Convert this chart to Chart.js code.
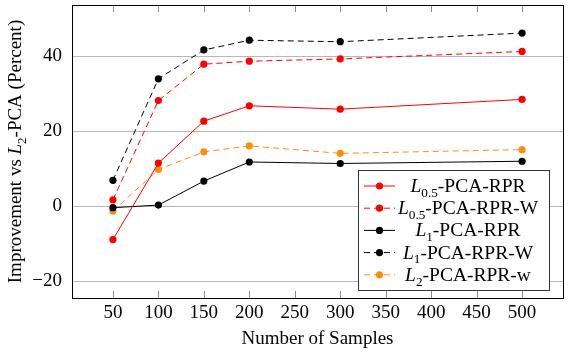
<!DOCTYPE html>
<html>
<head>
<meta charset="utf-8">
<script src="https://cdn.jsdelivr.net/npm/chart.js@4"></script>
<style>
html,body{margin:0;padding:0;background:#fff;}
canvas{display:block;}
</style>
</head>
<body>
<canvas id="c" width="574" height="356"></canvas>
<script>
// ---- data ----
const samples = [50, 100, 150, 200, 300, 500];
const l05 =   [-8.9, 11.5, 22.7, 26.8, 25.9, 28.5];
const l05W =  [1.7, 28.2, 37.9, 38.7, 39.3, 41.3];
const l1 =    [-0.4, 0.3, 6.7, 11.8, 11.4, 12.0];
const l1W =   [6.9, 34.0, 41.7, 44.3, 43.9, 46.2];
const l2w =   [-1.3, 9.8, 14.5, 16.1, 14.1, 15.1];
const xTicks = [50, 100, 150, 200, 250, 300, 350, 400, 450, 500];
const yTicks = [-20, 0, 20, 40];
const legendLabels = [
  [{t:'L',i:1},{t:'0.5',s:1},{t:'-PCA-RPR'}],
  [{t:'L',i:1},{t:'0.5',s:1},{t:'-PCA-RPR-W'}],
  [{t:'L',i:1},{t:'1',s:1},{t:'-PCA-RPR'}],
  [{t:'L',i:1},{t:'1',s:1},{t:'-PCA-RPR-W'}],
  [{t:'L',i:1},{t:'2',s:1},{t:'-PCA-RPR-w'}]
];
const yTitle = [{t:'Improvement vs '},{t:'L',i:1},{t:'2',s:1},{t:'-PCA (Percent)'}];
const xTitle = 'Number of Samples';

const FONT = '"Liberation Serif", "Times New Roman", serif';
const FS = 19;
const RED = '#ff0000', BLACK = '#000000', ORANGE = '#ff8c0a';
const DASH = [6, 4];

function mk(label, vals, color, dashed) {
  return {
    label, data: samples.map((x, i) => ({x, y: vals[i]})),
    borderColor: color, backgroundColor: color,
    pointBackgroundColor: color, pointBorderColor: color,
    borderWidth: 1, pointRadius: 3.6, pointBorderWidth: 0,
    borderDash: dashed ? DASH : [], tension: 0, fill: false
  };
}

function segWidth(ctx, segs, size) {
  let w = 0;
  for (const s of segs) {
    ctx.font = (s.i ? 'italic ' : '') + (s.s ? size*0.68 : size) + 'px ' + FONT;
    w += ctx.measureText(s.t).width;
  }
  return w;
}
function drawSegs(ctx, segs, x, y, size) {
  ctx.textBaseline = 'alphabetic';
  ctx.textAlign = 'left';
  for (const s of segs) {
    ctx.font = (s.i ? 'italic ' : '') + (s.s ? size*0.68 : size) + 'px ' + FONT;
    ctx.fillText(s.t, x, y + (s.s ? size*0.25 : 0));
    x += ctx.measureText(s.t).width;
  }
}

function noPad(s) { s.paddingTop = 0; s.paddingBottom = 0; s.paddingLeft = 0; s.paddingRight = 0; }

const deco = {
  id: 'deco',
  afterDraw(chart) {
    const ctx = chart.ctx, a = chart.chartArea, xs = chart.scales.x;
    ctx.save();
    // inward x ticks
    ctx.strokeStyle = '#8c8c8c'; ctx.lineWidth = 1;
    for (const v of xTicks) {
      const px = Math.round(xs.getPixelForValue(v)) + 0.5;
      ctx.beginPath();
      ctx.moveTo(px, a.bottom); ctx.lineTo(px, a.bottom - 7);
      ctx.moveTo(px, a.top); ctx.lineTo(px, a.top + 7);
      ctx.stroke();
    }
    // frame
    ctx.strokeStyle = '#000'; ctx.lineWidth = 1;
    ctx.strokeRect(Math.round(a.left) + 0.5, Math.round(a.top) + 0.5,
                   Math.round(a.right - a.left), Math.round(a.bottom - a.top));
    // x title
    ctx.fillStyle = '#000';
    ctx.font = FS + 'px ' + FONT; ctx.textAlign = 'center'; ctx.textBaseline = 'alphabetic';
    ctx.fillText(xTitle, (a.left + a.right) / 2, 344);
    // y title
    ctx.save();
    ctx.translate(21, (a.top + a.bottom) / 2);
    ctx.rotate(-Math.PI / 2);
    const yw = segWidth(ctx, yTitle, FS);
    drawSegs(ctx, yTitle, -yw / 2, 0, FS);
    ctx.restore();
    // legend
    const L = 358, T = 170, R = 549, B = 290;
    ctx.fillStyle = '#fff';
    ctx.fillRect(L, T, R - L, B - T);
    ctx.strokeStyle = '#333'; ctx.lineWidth = 1;
    ctx.strokeRect(L + 0.5, T + 0.5, R - L, B - T);
    chart.data.datasets.forEach((ds, i) => {
      const cy = 186 + i * 22.2;
      ctx.strokeStyle = ds.borderColor; ctx.lineWidth = 1;
      ctx.setLineDash(ds.borderDash || []);
      ctx.beginPath(); ctx.moveTo(364, cy); ctx.lineTo(395, cy); ctx.stroke();
      ctx.setLineDash([]);
      ctx.fillStyle = ds.borderColor;
      ctx.beginPath(); ctx.arc(379.5, cy, 3.6, 0, Math.PI * 2); ctx.fill();
      ctx.fillStyle = '#000';
      const w = segWidth(ctx, legendLabels[i], FS + 0.5);
      drawSegs(ctx, legendLabels[i], 468 - w / 2, cy + 6, FS + 0.5);
    });
    ctx.restore();
  }
};

new Chart(document.getElementById('c'), {
  type: 'line',
  data: {
    datasets: [
      mk('L0.5-PCA-RPR', l05, RED, false),
      mk('L0.5-PCA-RPR-W', l05W, RED, true),
      mk('L1-PCA-RPR', l1, BLACK, false),
      mk('L1-PCA-RPR-W', l1W, BLACK, true),
      mk('L2-PCA-RPR-w', l2w, ORANGE, true)
    ]
  },
  options: {
    responsive: false, animation: false, devicePixelRatio: 1,
    layout: {padding: {top: 5, right: 11, left: 0, bottom: 0}},
    plugins: {legend: {display: false}, tooltip: {enabled: false}},
    scales: {
      x: {
        type: 'linear', min: 5, max: 545,
        afterBuildTicks: s => { s.ticks = xTicks.map(v => ({value: v})); },
        afterFit: s => { s.height = 58; noPad(s); },
        grid: {display: false, drawTicks: false},
        border: {display: true, color: '#000', width: 1},
        ticks: {color: '#000', font: {family: FONT, size: FS}, padding: 4, maxRotation: 0, autoSkip: false}
      },
      y: {
        type: 'linear', min: -24.5, max: 53.7,
        afterBuildTicks: s => { s.ticks = yTicks.map(v => ({value: v})); },
        afterFit: s => { s.width = 72; noPad(s); },
        grid: {color: '#b8b8b8', lineWidth: 1, drawTicks: false},
        border: {display: true, color: '#000', width: 1},
        ticks: {color: '#000', font: {family: FONT, size: FS}, padding: 10,
                callback: v => v < 0 ? '\u2212' + Math.abs(v) : String(v)}
      }
    }
  },
  plugins: [deco]
});
</script>
</body>
</html>
